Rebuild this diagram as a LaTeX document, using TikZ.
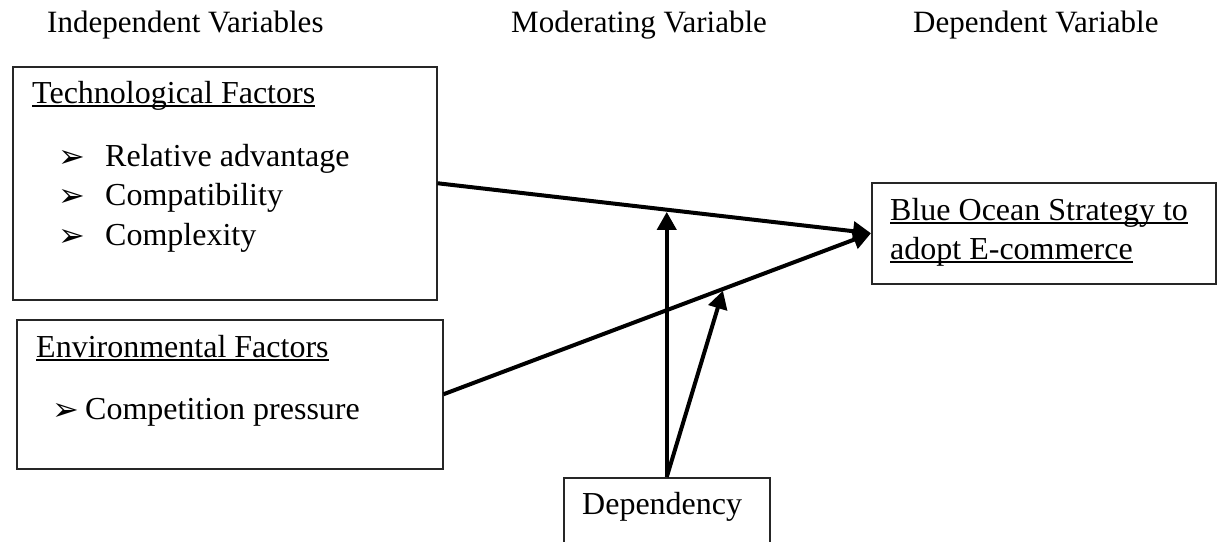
\documentclass[tikz,border=0pt]{standalone}
\usepackage{fontspec}
\setmainfont{Liberation Serif}
\newfontfamily\dejavu{DejaVu Sans}
\usetikzlibrary{arrows.meta,calc}
\newcommand{\ulin}[1]{\setbox0=\hbox{#1}\rlap{\rule[-0.12em]{\wd0}{0.045em}}\box0}
\newcommand{\bul}{{\dejavu\fontsize{32}{32}\selectfont\raisebox{-1pt}{➢}}}
\begin{document}
\begin{tikzpicture}[x=1pt,y=-1pt,
  box/.style={draw=black!85, line width=1.5pt, inner sep=0pt, anchor=north west},
  txt/.style={inner sep=0pt, anchor=base west, font=\fontsize{32}{38}\selectfont},
  hdr/.style={inner sep=0pt, anchor=base west, font=\fontsize{31}{36}\selectfont},
  conn/.style={line width=4pt, -{Triangle[length=18pt,width=19pt]}},
]
\useasboundingbox (0,0) rectangle (1221,541);
\clip (0,0) rectangle (1221,541);

\node[hdr] (h1) at (47,32) {Independent Variables};
\node[hdr] (h2) at (511,32) {Moderating Variable};
\node[hdr] (h3) at (913,32) {Dependent Variable};

\node[box, minimum width=424pt, minimum height=233pt] (tech) at (12,66) {};
\node[txt] (techT) at (32,103) {\ulin{Technological Factors}};
\node[txt] (i1) at (58,166) {\makebox[47pt][l]{\bul}Relative advantage};
\node[txt] (i2) at (58,205) {\makebox[47pt][l]{\bul}Compatibility};
\node[txt] (i3) at (58,245) {\makebox[47pt][l]{\bul}Complexity};

\node[box, minimum width=426pt, minimum height=149pt] (env) at (16,319) {};
\node[txt] (envT) at (36,357) {\ulin{Environmental Factors}};
\node[txt] (i4) at (52,419) {\makebox[33pt][l]{\bul}Competition pressure};

\node[box, minimum width=344pt, minimum height=101pt] (blue) at (871,182) {};
\node[txt] (b1) at (890,220) {\ulin{Blue Ocean Strategy to}};
\node[txt] (b2) at (890,259) {\ulin{adopt E-commerce}};

\node[box, minimum width=206pt, minimum height=120pt] (dep) at (563,477) {};
\node[txt] (depT) at (582,514) {Dependency};

\draw[conn] (tech.east) -- (blue.west);
\draw[conn] (env.east) -- (blue.west);
\coordinate (m1) at ($(tech.east)!0.533!(blue.west)$);
\coordinate (m2) at ($(env.east)!0.655!(blue.west)$);
\draw[conn, shorten >=2pt] (dep.north) -- (dep.north |- m1);
\draw[conn, shorten >=2pt] (dep.north) -- (m2);
\end{tikzpicture}
\end{document}
